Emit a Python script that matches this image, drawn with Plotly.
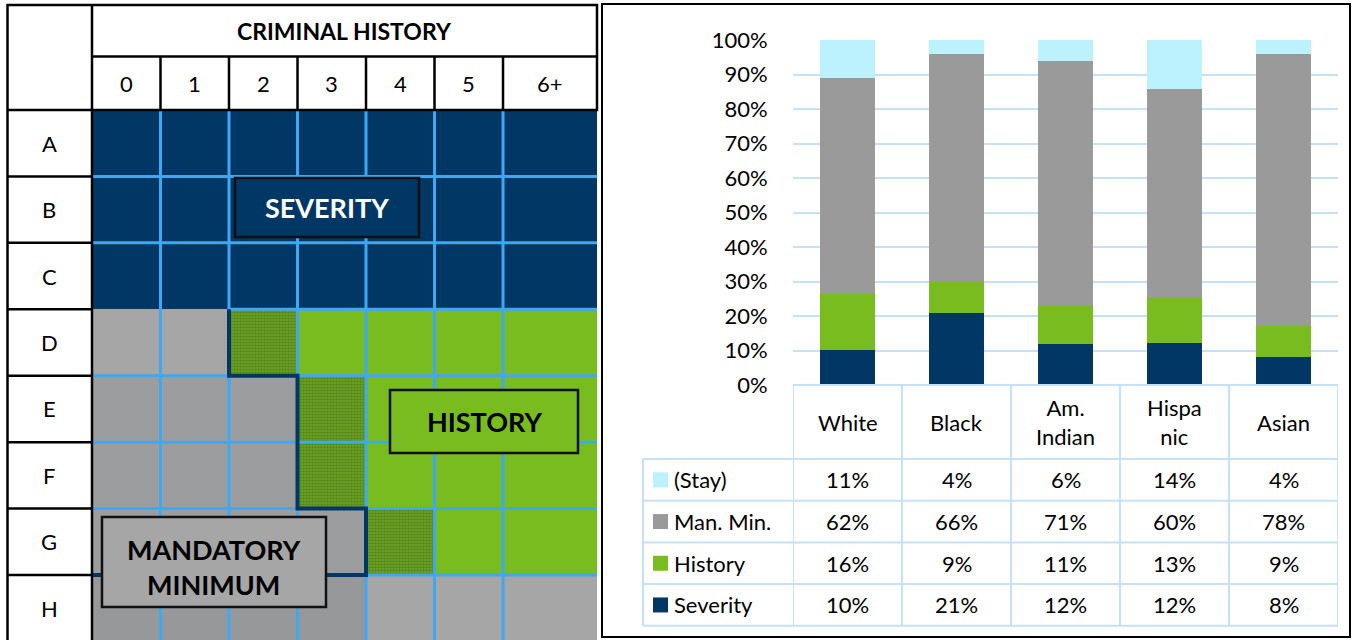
import plotly.graph_objects as go

W, H = 1353, 640

# ---------------- Right chart data ----------------
groups = ["White", "Black", "Am. Indian", "Hispanic", "Asian"]
group_labels = ["White", "Black", "Am.<br>Indian", "Hispa<br>nic", "Asian"]
severity = [10, 21, 12, 12, 8]
history = [16, 9, 11, 13, 9]
man_min = [62, 66, 71, 60, 78]
stay = [11, 4, 6, 14, 4]
y_ticks = [0, 10, 20, 30, 40, 50, 60, 70, 80, 90, 100]
y_tick_labels = ["0%", "10%", "20%", "30%", "40%", "50%", "60%", "70%", "80%", "90%", "100%"]

# ---------------- Left grid data ----------------
ch_cols = ["0", "1", "2", "3", "4", "5", "6+"]
col_edges = [0, 1, 2, 3, 4, 5, 6, 7.372]
sev_rows = ["A", "B", "C", "D", "E", "F", "G", "H"]
# 0 navy (severity), 1 green (history), 2 light gray, 3 gray (mand. min), 4 textured green, 5 dark gray
zones = [
    [0, 0, 0, 0, 0, 0, 0],
    [0, 0, 0, 0, 0, 0, 0],
    [0, 0, 0, 0, 0, 0, 0],
    [2, 2, 4, 1, 1, 1, 1],
    [3, 3, 3, 4, 1, 1, 1],
    [3, 3, 3, 4, 1, 1, 1],
    [3, 3, 3, 3, 4, 1, 1],
    [5, 5, 5, 5, 2, 2, 2],
]
step_path = [(2, 3), (2, 4), (3, 4), (3, 6), (4, 6), (4, 7), (0, 7)]

NAVY = "#003764"
GREEN = "#78BC20"
LGRAY = "#A6A6A6"
GRAY = "#9C9D9F"
TEX = "#5E9020"
DGRAY = "#97989A"
STAY = "#BBF2FD"
BARGRAY = "#9A9A9A"
GRIDBLUE = "#3DA8F4"
TBLUE = "#C6E1F6"
zone_colors = [NAVY, GREEN, LGRAY, GRAY, TEX, DGRAY]

FONT = "Lato"


def X(p):
    return p / W


def Y(p):
    return 1 - p / H


fig = go.Figure()

# ---------- bar chart ----------
series = [
    ("Severity", severity, NAVY),
    ("History", history, GREEN),
    ("Man. Min.", man_min, BARGRAY),
    ("(Stay)", stay, STAY),
]
for name, vals, col in series:
    fig.add_trace(go.Bar(x=groups, y=vals, name=name, marker_color=col,
                         marker_line_width=0, showlegend=False,
                         xaxis="x", yaxis="y", hoverinfo="skip"))

# ---------- left grid ----------
row_h = 66.43
fig.add_trace(go.Heatmap(
    z=zones, x=col_edges, y=list(range(len(sev_rows) + 1)),
    colorscale=[[i / (len(zone_colors) - 1), c] for i, c in enumerate(zone_colors)],
    zmin=0, zmax=len(zone_colors) - 1, showscale=False, hoverinfo="skip",
    xaxis="x2", yaxis="y2"))

tx, ty = [], []
for r, row in enumerate(zones):
    for c, v in enumerate(row):
        if v == 4:
            x0, x1 = col_edges[c], col_edges[c + 1]
            tx += [x0, x1, x1, x0, x0, None]
            ty += [r, r, r + 1, r + 1, r, None]
fig.add_trace(go.Scatter(
    x=tx, y=ty, mode="lines", fill="toself", line=dict(width=0),
    fillcolor=TEX,
    fillpattern=dict(shape=".", fgcolor="#3B6414", bgcolor="#6FA825", size=3, solidity=0.55),
    xaxis="x2", yaxis="y2", showlegend=False, hoverinfo="skip"))

shapes = []
# blue grid lines
for e in col_edges[1:-1]:
    shapes.append(dict(type="line", xref="x2", yref="y2", x0=e, x1=e, y0=0, y1=len(sev_rows),
                       line=dict(color=GRIDBLUE, width=3)))
for r in range(1, len(sev_rows)):
    x_start = 2 if r == 3 else 0
    shapes.append(dict(type="line", xref="x2", yref="y2", x0=x_start, x1=col_edges[-1], y0=r, y1=r,
                       line=dict(color=GRIDBLUE, width=3)))
# navy step boundary
path = "M " + " L ".join(f"{px},{py}" for px, py in step_path)
shapes.append(dict(type="path", xref="x2", yref="y2", path=path,
                   line=dict(color=NAVY, width=4)))

BLK = dict(color="black", width=2.5)
# header / label column black lines (paper)
shapes += [
    dict(type="line", xref="paper", yref="paper", x0=X(7.5), x1=X(7.5), y0=Y(4), y1=Y(645), line=BLK),
    dict(type="line", xref="paper", yref="paper", x0=X(7), x1=X(598), y0=Y(5), y1=Y(5), line=BLK),
    dict(type="line", xref="paper", yref="paper", x0=X(597), x1=X(597), y0=Y(4), y1=Y(111), line=BLK),
    dict(type="line", xref="paper", yref="paper", x0=X(92), x1=X(92), y0=Y(4), y1=Y(645), line=BLK),
    dict(type="line", xref="paper", yref="paper", x0=X(92), x1=X(598), y0=Y(56.5), y1=Y(56.5), line=BLK),
    dict(type="line", xref="paper", yref="paper", x0=X(7), x1=X(598), y0=Y(110), y1=Y(110), line=BLK),
]
for e in col_edges[1:-1]:
    shapes.append(dict(type="line", xref="x2", yref="paper", x0=e, x1=e, y0=Y(56.5), y1=Y(110), line=BLK))
for r in range(1, len(sev_rows)):
    shapes.append(dict(type="line", xref="paper", yref="y2", x0=X(7), x1=X(92), y0=r, y1=r, line=BLK))

# label boxes
boxes = [
    (235, 178, 419, 237, NAVY),
    (390, 390, 578, 453, GREEN),
    (102, 517, 326, 607, LGRAY),
]
for x0, y0, x1, y1, col in boxes:
    shapes.append(dict(type="rect", xref="paper", yref="paper", x0=X(x0), x1=X(x1), y0=Y(y0), y1=Y(y1),
                       fillcolor=col, line=dict(color="#111111", width=2.5)))

# ---------- table lines (right) ----------
t_edges = [385, 459, 500.7, 542.4, 584.1, 625.8]
for i in range(len(groups) + 1):
    shapes.append(dict(type="line", xref="x", yref="paper", x0=i - 0.5, x1=i - 0.5,
                       y0=Y(t_edges[0]), y1=Y(t_edges[-1]), line=dict(color=TBLUE, width=2)))
shapes.append(dict(type="line", xref="paper", yref="paper", x0=X(643), x1=X(643),
                   y0=Y(t_edges[1]), y1=Y(t_edges[-1]), line=dict(color=TBLUE, width=2)))
shapes.append(dict(type="line", xref="x", yref="paper", x0=-0.5, x1=len(groups) - 0.5,
                   y0=Y(t_edges[0]), y1=Y(t_edges[0]), line=dict(color=TBLUE, width=2)))
for e in t_edges[1:]:
    shapes.append(dict(type="line", xref="paper", yref="paper", x0=X(643), x1=X(1338),
                       y0=Y(e), y1=Y(e), line=dict(color=TBLUE, width=2)))

# right outer border
shapes.append(dict(type="rect", xref="paper", yref="paper", x0=X(602), x1=X(1350), y0=Y(4), y1=Y(637),
                   line=dict(color="black", width=2), fillcolor="rgba(0,0,0,0)"))

C = dict(xanchor="center", yanchor="middle", showarrow=False)
annotations = []
# left texts
annotations.append(dict(xref="paper", yref="paper", x=X(344), y=Y(31), text="<b>CRIMINAL HISTORY</b>",
                        font=dict(family=FONT, size=23, color="black"), **C))
for i, lab in enumerate(ch_cols):
    annotations.append(dict(xref="x2", yref="paper", x=(col_edges[i] + col_edges[i + 1]) / 2, y=Y(84),
                            text=lab, font=dict(family=FONT, size=22, color="black"), **C))
for r, lab in enumerate(sev_rows):
    annotations.append(dict(xref="paper", yref="y2", x=X(49), y=r + 0.5, text=lab,
                            font=dict(family=FONT, size=22, color="black"), **C))
annotations.append(dict(xref="paper", yref="paper", x=X(327), y=Y(208), text="<b>SEVERITY</b>",
                        font=dict(family=FONT, size=27, color="white"), **C))
annotations.append(dict(xref="paper", yref="paper", x=X(484), y=Y(421), text="<b>HISTORY</b>",
                        font=dict(family=FONT, size=27, color="black"), **C))
annotations.append(dict(xref="paper", yref="paper", x=X(214), y=Y(567), text="<b>MANDATORY<br>MINIMUM</b>",
                        font=dict(family=FONT, size=27, color="black"), **C))

# right table texts
for g, lab in zip(groups, group_labels):
    annotations.append(dict(xref="x", yref="paper", x=g, y=Y((t_edges[0] + t_edges[1]) / 2), text=lab,
                            font=dict(family=FONT, size=22, color="black"), **C))
table_rows = [("(Stay)", stay, STAY), ("Man. Min.", man_min, BARGRAY),
              ("History", history, GREEN), ("Severity", severity, NAVY)]
for k, (name, vals, col) in enumerate(table_rows):
    yc = (t_edges[k + 1] + t_edges[k + 2]) / 2
    shapes.append(dict(type="rect", xref="paper", yref="paper", x0=X(653), x1=X(668),
                       y0=Y(yc - 7.5), y1=Y(yc + 7.5), fillcolor=col, line=dict(width=0)))
    annotations.append(dict(xref="paper", yref="paper", x=X(672), y=Y(yc), text=name, xanchor="left",
                            yanchor="middle", showarrow=False,
                            font=dict(family=FONT, size=22, color="black")))
    for g, v in zip(groups, vals):
        annotations.append(dict(xref="x", yref="paper", x=g, y=Y(yc), text=f"{v}%",
                                font=dict(family=FONT, size=22, color="black"), **C))

fig.update_layout(
    width=W, height=H, margin=dict(l=0, r=0, t=0, b=0, pad=0, autoexpand=False),
    paper_bgcolor="white", plot_bgcolor="white",
    barmode="stack", barnorm="percent", bargap=0.495,
    xaxis=dict(domain=[X(793), X(1338)], range=[-0.5, len(groups) - 0.5], showticklabels=False,
               showgrid=False, zeroline=False, showline=False, ticks="", fixedrange=True),
    yaxis=dict(domain=[Y(385), Y(40)], range=[0, 100], tickmode="array", tickvals=y_ticks,
               ticktext=y_tick_labels,
               showgrid=True, gridcolor=TBLUE, gridwidth=2, zeroline=False, showline=False,
               ticks="outside", ticklen=20, tickcolor="rgba(0,0,0,0)",
               tickfont=dict(family=FONT, size=22, color="black"), fixedrange=True),
    xaxis2=dict(domain=[X(92), X(597)], range=[0, col_edges[-1]], visible=False, fixedrange=True),
    yaxis2=dict(domain=[0, Y(110)], range=[(640 - 110) / row_h, 0], visible=False, fixedrange=True),
    shapes=shapes, annotations=annotations,
    font=dict(family=FONT),
)

fig.write_html("out.html", config={"displayModeBar": False},
               post_script="document.body.style.margin='0';document.body.style.overflow='hidden';")
